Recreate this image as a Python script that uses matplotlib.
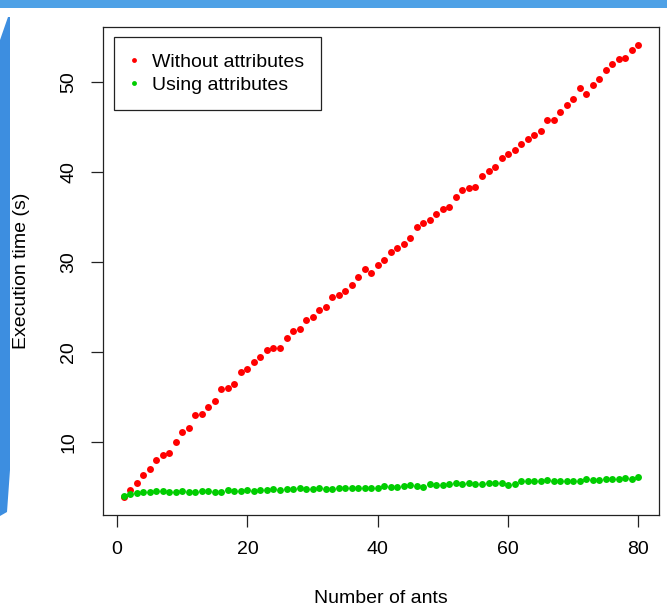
import matplotlib
matplotlib.use("Agg")
import matplotlib.pyplot as plt
from matplotlib.patches import Polygon
import numpy as np

plt.rcParams['font.family'] = ['Liberation Sans', 'DejaVu Sans']

# --- data ---
ants = list(range(1, 81))
without_attr = [3.9, 4.7, 5.4, 6.3, 7.0, 8.0, 8.6, 8.8, 10.0, 11.1,
                11.6, 13.0, 13.1, 13.9, 14.6, 15.9, 16.0, 16.5, 17.8, 18.1,
                18.9, 19.5, 20.2, 20.4, 20.5, 21.6, 22.3, 22.6, 23.6, 23.9,
                24.7, 25.0, 26.1, 26.3, 26.8, 27.4, 28.3, 29.2, 28.8, 29.7,
                30.2, 31.1, 31.5, 32.0, 32.7, 33.9, 34.3, 34.7, 35.3, 35.9,
                36.1, 37.2, 38.0, 38.2, 38.3, 39.6, 40.1, 40.6, 41.5, 42.0,
                42.4, 43.1, 43.7, 44.1, 44.6, 45.8, 45.8, 46.7, 47.4, 48.1,
                49.3, 48.7, 49.7, 50.3, 51.3, 52.0, 52.6, 52.7, 53.5, 54.1]
using_attr = [4.0, 4.2, 4.35, 4.4, 4.5, 4.6, 4.6, 4.5, 4.5, 4.55,
              4.5, 4.5, 4.6, 4.55, 4.5, 4.5, 4.65, 4.6, 4.6, 4.65,
              4.6, 4.7, 4.65, 4.75, 4.7, 4.75, 4.8, 4.85, 4.8, 4.8,
              4.85, 4.8, 4.75, 4.85, 4.9, 4.85, 4.9, 4.95, 4.9, 4.85,
              5.15, 5.05, 5.05, 5.15, 5.25, 5.1, 5.05, 5.3, 5.2, 5.2,
              5.35, 5.4, 5.35, 5.4, 5.35, 5.35, 5.5, 5.5, 5.4, 5.25,
              5.35, 5.65, 5.65, 5.65, 5.7, 5.75, 5.7, 5.7, 5.65, 5.65,
              5.7, 5.9, 5.8, 5.75, 5.85, 5.9, 5.9, 6.05, 5.95, 6.1]
series_names = ["Without attributes", "Using attributes"]
x_ticks = [0, 20, 40, 60, 80]
y_ticks = [10, 20, 30, 40, 50]

W, H = 667, 611
fig = plt.figure(figsize=(W / 100, H / 100), dpi=100)

def px(x, y):
    return (x / W, 1 - y / H)

# blue screenshot edges
fig.patches.append(Polygon([px(0, 0), px(W, 0), px(W, 8), px(0, 8)],
                           closed=True, transform=fig.transFigure,
                           facecolor='#4ea1e6', edgecolor='none'))
fig.patches.append(Polygon([px(0, 40), px(8, 17), px(10, 17), px(10, 470),
                            px(7, 512), px(0, 516)],
                           closed=True, transform=fig.transFigure,
                           facecolor='#3d8ee0', edgecolor='none'))

ax = fig.add_axes([103 / W, 1 - 515 / H, 556 / W, 488 / H])

ax.plot(ants, without_attr, 'o', color='#ff0000', ms=5, mew=0,
        label=series_names[0])
ax.plot(ants, using_attr, 'o', color='#00cd00', ms=5, mew=0,
        label=series_names[1])

ax.set_xlim(-2.16, 83.16)
ax.set_ylim(1.9, 56.1)
ax.set_xticks(x_ticks)
ax.set_yticks(y_ticks)

for s in ax.spines.values():
    s.set_color('#222222')
    s.set_linewidth(0.9)

ax.tick_params(direction='out', length=8.6, width=0.9, color='#222222',
               labelsize=14, pad=10)
for lab in ax.get_yticklabels():
    lab.set_rotation(90)
    lab.set_va('center')

ax.set_xlabel("Number of ants", fontsize=14)
ax.set_ylabel("Execution time (s)", fontsize=14)
ax.xaxis.set_label_coords(0.5, -0.171)
ax.yaxis.set_label_coords(-0.147, 0.5)
ax.xaxis.label.set_va('center')
ax.yaxis.label.set_va('center')

leg = ax.legend(loc='upper left', bbox_to_anchor=(11 / 556, 1 - 10 / 488),
                fontsize=14, markerscale=0.7, handletextpad=0.7,
                handlelength=0.4, fancybox=False, framealpha=1,
                borderpad=0.85, labelspacing=0.25, borderaxespad=0)
leg.get_frame().set_edgecolor('#222222')
leg.get_frame().set_linewidth(0.9)

fig.savefig("out.png", dpi=100)
